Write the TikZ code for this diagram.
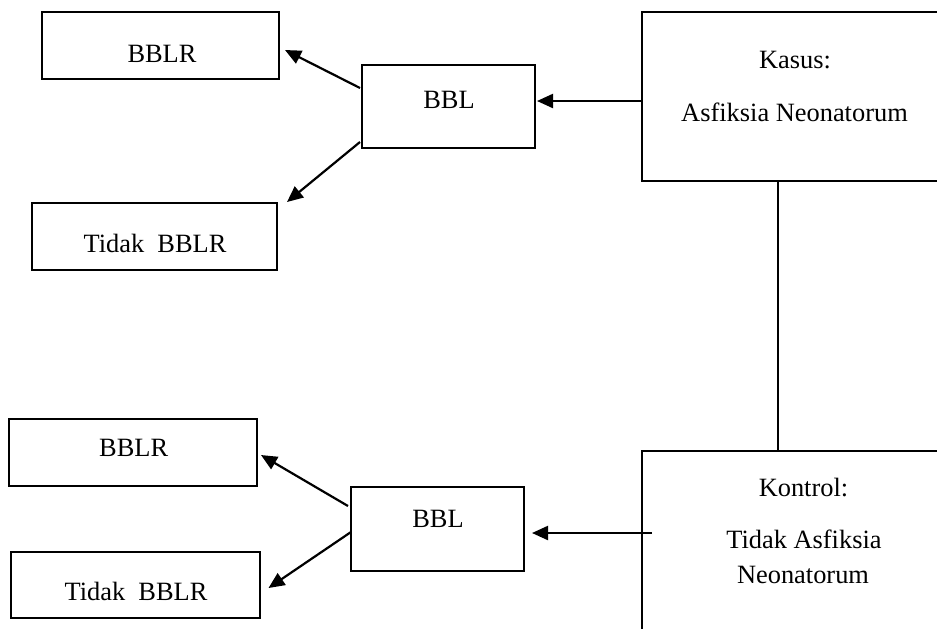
\documentclass[tikz,border=0pt]{standalone}
\usepackage{fontspec}
\setmainfont{Liberation Serif}
\usetikzlibrary{arrows.meta,calc}
\begin{document}
\begin{tikzpicture}[x=0.5pt,y=-0.5pt,
  box/.style={draw,line width=1.25pt,inner sep=0pt,outer sep=0pt},
  lbl/.style={anchor=base,inner sep=0pt,font=\fontsize{13.2}{16}\selectfont},
  arr/.style={line width=1.1pt,-{Triangle[length=8pt,width=7pt]}},
  ln/.style={line width=1.1pt}]
\useasboundingbox (0,0) rectangle (937,628);
\clip (0,0) rectangle (937,628);
% boxes
\node[box,minimum width=118.5pt,minimum height=33.5pt] (bblrA) at (160.5,45.5) {};
\node[box,minimum width=122.5pt,minimum height=33.5pt] (tidakA) at (154.5,236.5) {};
\node[box,minimum width=86.5pt,minimum height=41.5pt] (bblA) at (448.5,106.5) {};
\node[box,minimum width=174pt,minimum height=84.5pt] (kasus) at (816,96.5) {};
\node[box,minimum width=174pt,minimum height=124.5pt] (kontrol) at (816,575.5) {};
\node[box,minimum width=86.5pt,minimum height=42pt] (bblB) at (437.5,529) {};
\node[box,minimum width=124pt,minimum height=33.5pt] (bblrB) at (133,452.5) {};
\node[box,minimum width=124.5pt,minimum height=33pt] (tidakB) at (135.5,585) {};
% texts
\node[lbl] (tA1) at (162,62) {BBLR};
\node[lbl] (tA2) at (155,252) {Tidak~ BBLR};
\node[lbl] (tA3) at (449,108) {BBL};
\node[lbl] (tK1) at (795,68) {Kasus:};
\node[lbl] (tK2) at (794.5,121) {Asfiksia Neonatorum};
\node[lbl] (tC1) at (803.5,496) {Kontrol:};
\node[lbl] (tC2) at (804,548) {Tidak Asfiksia};
\node[lbl] (tC3) at (803,583) {Neonatorum};
\node[lbl] (tB3) at (438,527) {BBL};
\node[lbl] (tB1) at (133.7,456) {BBLR};
\node[lbl] (tB2) at (136,600) {Tidak~ BBLR};
% connectors
\draw[arr] ($(kasus.west)+(0,4.5)$) -- ($(bblA.east)+(2,-5.5)$);
\draw[arr] ($(bblA.west)+(-2,-18.5)$) -- ($(bblrA.east)+(6,4.5)$);
\draw[arr] ($(bblA.west)+(-2,35.5)$) -- ($(tidakA.north east)+(10,-1)$);
\draw[ln] ($(kasus.south)+(-38,0)$) -- ($(kontrol.north)+(-38,0)$);
\draw[arr] ($(kontrol.west)+(10,-42.5)$) -- ($(bblB.east)+(8,4)$);
\draw[arr] ($(bblB.west)+(-3,-23)$) -- ($(bblrB.east)+(4,2.5)$);
\draw[arr] ($(bblB.west)+(0,3)$) -- ($(tidakB.east)+(8.5,3)$);
\end{tikzpicture}
\end{document}
